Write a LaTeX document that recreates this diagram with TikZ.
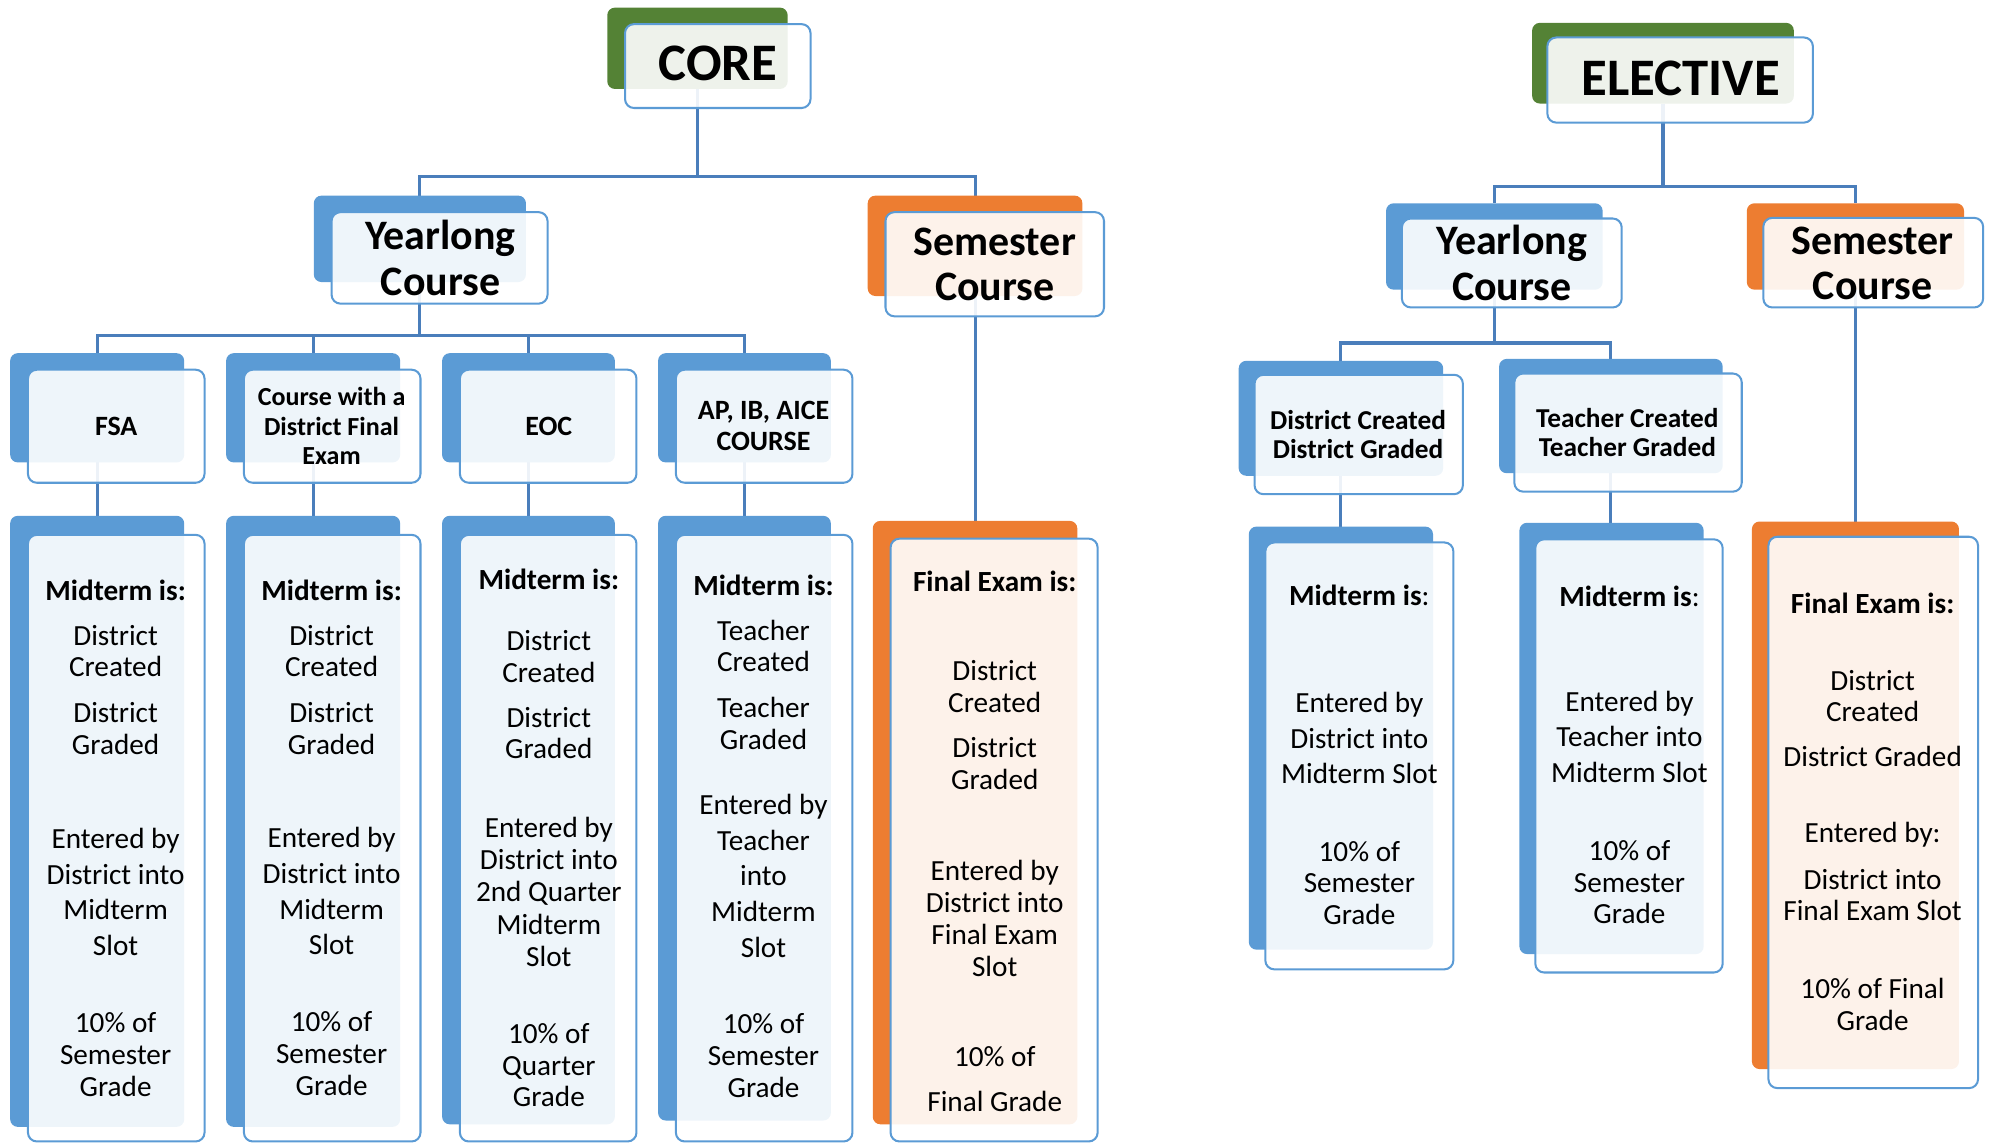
\documentclass[tikz,border=0pt]{standalone}
\usepackage{fontspec}
\setmainfont{Carlito}
\usetikzlibrary{fit,backgrounds}
\definecolor{cgreen}{HTML}{548235}
\definecolor{cblue}{HTML}{5B9BD5}
\definecolor{corange}{HTML}{ED7D31}
\definecolor{cline}{HTML}{4A7EBB}
\definecolor{cedge}{HTML}{5B9BD5}
\newcommand\fsz[2]{\fontsize{#1}{#2}\selectfont}
\newcommand\dualbox[6]{%
  \node[backbox, fill=#2, fit={(#3) (#4)}] (#1B) {};
  \node[frontbox, fit={(#5) (#6)}] (#1F) {};}
\begin{document}
\begin{tikzpicture}[x=1pt,y=-1pt,
  backbox/.style={rectangle, rounded corners=6pt, inner sep=0pt, outer sep=0pt, draw=none},
  frontbox/.style={rectangle, rounded corners=7pt, inner sep=0pt, outer sep=0pt, draw=cedge, line width=1.6pt, fill=white, fill opacity=0.9},
  conn/.style={draw=cline, line width=2.4pt},
  tx/.style={align=center, inner sep=0pt, text=black, font=\fsz{23}{25}},
  txb/.style={tx, font=\bfseries\fsz{23}{25}},
  head/.style={align=center, inner sep=0pt, font=\bfseries\fsz{33}{35.5}},
  sub/.style={align=center, inner sep=0pt, font=\bfseries\fsz{22}{25}}]
\useasboundingbox (0,0) rectangle (1568,900);

% ---- CORE side boxes
\dualbox{core}{cgreen}{478,6}{620,70}{492,19}{638,85}
\dualbox{yl}{cblue}{247,154}{414,222}{261,167}{431,239}
\dualbox{sem}{corange}{683,154}{852,233}{697,167}{869,249}
\dualbox{fsa}{cblue}{8,278}{145,364}{22,291}{161,380}
\dualbox{cw}{cblue}{178,278}{315,364}{192,291}{331,380}
\dualbox{eoc}{cblue}{348,278}{484,364}{362,291}{501,380}
\dualbox{ap}{cblue}{518,278}{654,364}{532,291}{671,380}
\dualbox{ma}{cblue}{8,406}{145,887}{22,421}{161,898.5}
\dualbox{mb}{cblue}{178,406}{315,887}{192,421}{331,898.5}
\dualbox{mc}{cblue}{348,406}{484,885}{362,421}{501,898.5}
\dualbox{md}{cblue}{518,406}{654,882}{532,421}{671,898.5}
\dualbox{fin}{corange}{687,410}{848,885}{701,424}{864,898.5}

% ---- ELECTIVE side boxes
\dualbox{el}{cgreen}{1206,18}{1412,81.5}{1218,29.5}{1427,96.5}
\dualbox{eyl}{cblue}{1091,160}{1261.5,228}{1103.5,172}{1276.5,242}
\dualbox{esem}{corange}{1375,160}{1546,228}{1388,171.5}{1561,242}
\dualbox{dc}{cblue}{975,284}{1136,374.5}{987.5,295}{1151.5,389}
\dualbox{tc}{cblue}{1180,282.5}{1356,372.5}{1192,294}{1371,387}
\dualbox{ema}{cblue}{983,414.5}{1128,747.5}{996,427}{1144,763}
\dualbox{emb}{cblue}{1196,411.5}{1341,751}{1208.5,424.5}{1356,765.5}
\dualbox{efin}{corange}{1379,410.5}{1542,841.5}{1392,422.5}{1557,856.5}

% ---- connectors (behind)
\begin{pgfonlayer}{background}
\draw[conn] (coreB.south) -- ++(0,69) -| (ylB.north);
\draw[conn] (coreB.south) -- ++(0,69) -| (semB.north);
\foreach \c in {fsa,cw,eoc,ap}{
  \draw[conn] (ylB.south) -- ++(0,42) -| (\c B.north);}
\draw[conn] (fsaB.south) -- (fsaB.south |- maB.north);
\draw[conn] (cwB.south) -- (cwB.south |- mbB.north);
\draw[conn] (eocB.south) -- (eocB.south |- mcB.north);
\draw[conn] (apB.south) -- (apB.south |- mdB.north);
\draw[conn] (semB.south) -- (semB.south |- finB.north);
\draw[conn] (elB.south) -- ++(0,65.5) -| (eylB.north);
\draw[conn] (elB.south) -- ++(0,65.5) -| (esemB.north);
\draw[conn] (eylB.south) -- ++(0,42) -| (dcB.north);
\draw[conn] (eylB.south) -- ++(0,42) -| (tcB.north);
\draw[conn] (dcB.south) -- (dcB.south |- emaB.north);
\draw[conn] (tcB.south) -- (tcB.south |- embB.north);
\draw[conn] (esemB.south) -- (esemB.south |- efinB.north);
\end{pgfonlayer}

% ---- titles
\node[inner sep=0pt, font=\bfseries\fsz{41.5}{44}] (tcore) at (565,50) {CORE};
\node[inner sep=0pt, font=\bfseries\fsz{41.5}{44}] (telec) at (1323,62) {ELECTIVE};
\node[head] (tyl) at (346.8,203) {Yearlong\\Course};
\node[head] (tsem) at (783,208) {Semester\\Course};
\node[head] (teyl) at (1190,207) {Yearlong\\Course};
\node[head] (tesem) at (1474,207) {Semester\\Course};

% ---- second row (core)
\node[sub] (tfsa) at (91.5,335.4) {FSA};
\node[sub, font=\bfseries\fsz{20.5}{23}] (tcw) at (261,335.3) {Course with a\\District Final\\Exam};
\node[sub] (teoc) at (432,335.4) {EOC};
\node[sub] (tap) at (601,335.2) {AP, IB, AICE\\COURSE};
% ---- second row (elective)
\node[sub, font=\bfseries\fsz{21.5}{23.3}] (tdc) at (1069,342) {District Created\\District Graded};
\node[sub, font=\bfseries\fsz{21.5}{23.3}] (ttc) at (1281,340.3) {Teacher Created\\Teacher Graded};

% ---- column 1
\node[txb] (a1) at (91,465) {Midterm is:};
\node[tx] (a2) at (91,512.5) {District\\Created};
\node[tx] (a3) at (91,573.5) {District\\Graded};
\node[tx, font=\fsz{23}{28}] (a4) at (91,702) {Entered by\\District into\\Midterm\\Slot};
\node[tx] (a5) at (91,830) {10\% of\\Semester\\Grade};
% ---- column 2
\node[txb] (b1) at (261,465) {Midterm is:};
\node[tx] (b2) at (261,512.5) {District\\Created};
\node[tx] (b3) at (261,573.5) {District\\Graded};
\node[tx, font=\fsz{23}{28}] (b4) at (261,701.5) {Entered by\\District into\\Midterm\\Slot};
\node[tx] (b5) at (261,829.5) {10\% of\\Semester\\Grade};
% ---- column 3
\node[txb] (c1) at (432,456) {Midterm is:};
\node[tx] (c2) at (432,516.5) {District\\Created};
\node[tx] (c3) at (432,577) {District\\Graded};
\node[tx, font=\fsz{23}{25.4}] (c4) at (432,702) {Entered by\\District into\\2nd Quarter\\Midterm\\Slot};
\node[tx] (c5) at (432,838.5) {10\% of\\Quarter\\Grade};
% ---- column 4
\node[txb] (d1) at (601,460.5) {Midterm is:};
\node[tx] (d2) at (601,508.5) {Teacher\\Created};
\node[tx] (d3) at (601,569.5) {Teacher\\Graded};
\node[tx, font=\fsz{23}{28}] (d4) at (601,689.5) {Entered by\\Teacher\\into\\Midterm\\Slot};
\node[tx] (d5) at (601,831) {10\% of\\Semester\\Grade};
% ---- column 5
\node[txb] (e1) at (783,457.6) {Final Exam is:};
\node[tx] (e2) at (783,540.5) {District\\Created};
\node[tx] (e3) at (783,601.3) {District\\Graded};
\node[tx, font=\fsz{23}{25.1}] (e4) at (783,723) {Entered by\\District into\\Final Exam\\Slot};
\node[tx, font=\fsz{23}{35.6}] (e5) at (783,849.5) {10\% of\\Final Grade};
% ---- elective column 1
\node[tx] (f1) at (1070,468.6) {\textbf{Midterm is}:};
\node[tx, font=\fsz{23}{27.8}] (f2) at (1070,581) {Entered by\\District into\\Midterm Slot};
\node[tx] (f3) at (1070,695) {10\% of\\Semester\\Grade};
% ---- elective column 2
\node[tx] (g1) at (1282.6,469.6) {\textbf{Midterm is}:};
\node[tx, font=\fsz{23}{27.8}] (g2) at (1282.6,580) {Entered by\\Teacher into\\Midterm Slot};
\node[tx] (g3) at (1282.6,694.5) {10\% of\\Semester\\Grade};
% ---- elective column 3
\node[txb] (h1) at (1474,475) {Final Exam is:};
\node[tx, font=\fsz{23}{24.2}] (h2) at (1474,548) {District\\Created};
\node[tx] (h3) at (1474,595.7) {District Graded};
\node[tx] (h4) at (1474,657) {Entered by:};
\node[tx, font=\fsz{23}{24.2}] (h5) at (1474,704.8) {District into\\Final Exam Slot};
\node[tx, font=\fsz{23}{25.2}] (h6) at (1474,791) {10\% of Final\\Grade};
\end{tikzpicture}
\end{document}
